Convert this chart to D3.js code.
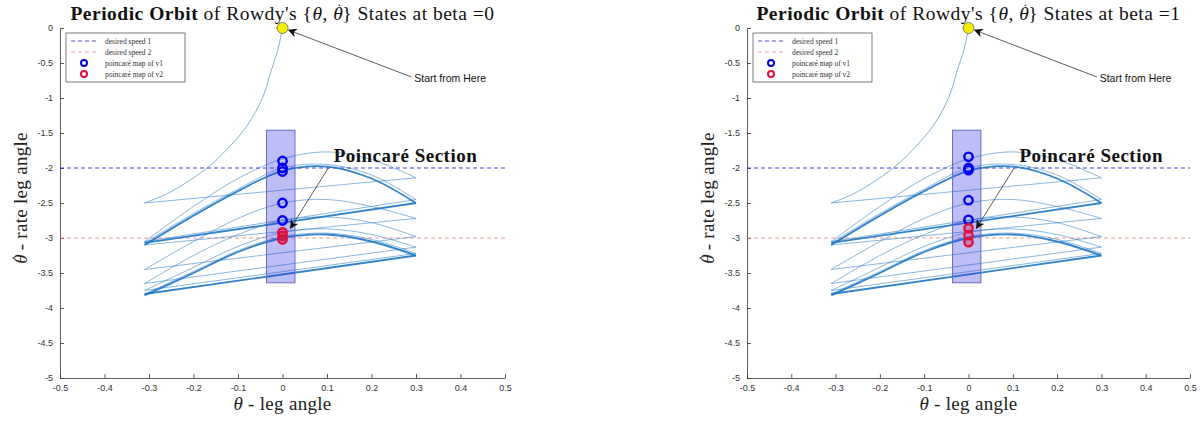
<!DOCTYPE html>
<html>
<head>
<meta charset="utf-8">
<script src="https://cdn.jsdelivr.net/npm/d3@7"></script>
<style>
  body { margin: 0; background: #fff; }
  svg { display: block; }
  .tick text { font-family: "Liberation Sans", Arial, sans-serif; font-size: 9px; fill: #333; }
  .axis path, .axis line { stroke: #333; stroke-width: 0.8; }
</style>
</head>
<body>
<div id="content"></div>
<script>
// ticks
const xTicks = [-0.5, -0.4, -0.3, -0.2, -0.1, 0, 0.1, 0.2, 0.3, 0.4, 0.5];
const yTicks = [0, -0.5, -1, -1.5, -2, -2.5, -3, -3.5, -4, -4.5, -5];

// desired speeds (dashed lines)
const desiredSpeed = [-2, -3];

// first fall from the start point down to the first impact
const startArc = [[0, 0], [-0.01, -0.3], [-0.025, -0.6], [-0.045, -1.0], [-0.08, -1.4], [-0.117, -1.68],
                  [-0.16, -1.95], [-0.207, -2.17], [-0.26, -2.37], [-0.31, -2.5]];

// each stride sampled at these leg angles (right end -> left end)
const strideX = [0.3, 0.2, 0.1, 0, -0.1, -0.2, -0.31];
const strideY = [
    [-2.14, -1.88, -1.77, -1.87, -2.15, -2.55, -3.05],
    [-2.45, -2.10, -1.95, -2.00, -2.30, -2.65, -3.07],
    [-2.50, -2.15, -1.98, -2.04, -2.33, -2.68, -3.10],
    [-2.72, -2.55, -2.45, -2.50, -2.72, -3.05, -3.45],
    [-2.98, -2.78, -2.70, -2.75, -2.95, -3.25, -3.65],
    [-3.13, -2.95, -2.87, -2.92, -3.12, -3.42, -3.75],
    [-3.22, -3.02, -2.93, -2.98, -3.18, -3.48, -3.80],
    [-3.25, -3.05, -2.95, -3.00, -3.20, -3.50, -3.82]
];
// converged strides are drawn many times -> heavier
const strideHeavy = [false, false, true, false, false, false, false, true];

// poincaré section box
const sectionX = [-0.036, 0.028];
const sectionY = [-1.46, -3.64];

// poincaré map values at theta = 0
const betas = [0, 1];
const v1Map = [
    [-1.90, -2.00, -2.05, -2.50, -2.75],
    [-1.84, -2.00, -2.03, -2.46, -2.74]
];
const v2Map = [
    [-2.92, -2.97, -3.02],
    [-2.86, -2.96, -3.06]
];

const legendLabels = ["desired speed 1", "desired speed 2", "poincaré map of v1", "poincaré map of v2"];

const W = 1203, H = 423;
const orbitColor = "#1f77c4";
const serif = "Liberation Serif, serif";

const svg = d3.select("#content")
    .append("svg")
    .attr("width", W)
    .attr("height", H);

const defs = svg.append("defs");
defs.append("marker")
    .attr("id", "arrow")
    .attr("viewBox", "0 0 10 10")
    .attr("refX", 9).attr("refY", 5)
    .attr("markerWidth", 9).attr("markerHeight", 9)
    .attr("markerUnits", "userSpaceOnUse")
    .attr("orient", "auto")
    .append("path")
    .attr("d", "M0,0 L10,5 L0,10 L3,5 z")
    .attr("fill", "#111");

const panelLeft = [60, 747];
const panelRight = [505, 1190];

// italic theta with a dot above it (S = font size of the parent text)
function thetaDot(t, S)
{
    t.append("tspan").style("font-style", "italic").text("θ");
    t.append("tspan")
        .style("font-size", (0.75 * S) + "px")
        .attr("dx", -0.33 * S)
        .attr("dy", -0.29 * S)
        .text("\u02D9");
    return t.append("tspan").attr("dy", 0.29 * S);
}

function drawPanel(i)
{
    const x = d3.scaleLinear().domain([-0.5, 0.5]).range([panelLeft[i], panelRight[i]]);
    const y = d3.scaleLinear().domain([-5, 0]).range([378, 28]);
    const g = svg.append("g");
    const cx = (panelLeft[i] + panelRight[i]) / 2;

    // axes (box off, ticks inside)
    g.append("g")
        .attr("class", "axis")
        .attr("transform", "translate(0,378)")
        .call(d3.axisBottom(x).tickValues(xTicks).tickSize(-4).tickSizeOuter(0).tickPadding(7)
            .tickFormat(d => String(d)));
    g.append("g")
        .attr("class", "axis")
        .attr("transform", "translate(" + panelLeft[i] + ",0)")
        .call(d3.axisLeft(y).tickValues(yTicks).tickSize(-4).tickSizeOuter(0).tickPadding(7)
            .tickFormat(d => String(d)));

    // desired speed lines
    g.append("line")
        .attr("x1", x(-0.5)).attr("x2", x(0.5))
        .attr("y1", y(desiredSpeed[0])).attr("y2", y(desiredSpeed[0]))
        .attr("stroke", "#2a2ad0").attr("stroke-width", 0.9)
        .attr("stroke-dasharray", "4,3");
    g.append("line")
        .attr("x1", x(-0.5)).attr("x2", x(0.5))
        .attr("y1", y(desiredSpeed[1])).attr("y2", y(desiredSpeed[1]))
        .attr("stroke", "#f08a8a").attr("stroke-width", 0.9)
        .attr("stroke-dasharray", "4,3");

    const curve = d3.line()
        .curve(d3.curveCatmullRom)
        .x(d => x(d[0]))
        .y(d => y(d[1]));

    // start fall
    g.append("path")
        .attr("d", curve(startArc))
        .attr("fill", "none")
        .attr("stroke", orbitColor)
        .attr("stroke-width", 0.7)
        .attr("opacity", 0.8);

    // impacts (straight jumps from left end to next right end)
    let prev = startArc[startArc.length - 1];
    strideY.forEach(function(s, k) {
        const heavy = strideHeavy[k];
        g.append("line")
            .attr("x1", x(prev[0])).attr("y1", y(prev[1]))
            .attr("x2", x(strideX[0])).attr("y2", y(s[0]))
            .attr("stroke", orbitColor)
            .attr("stroke-width", heavy ? 1.8 : 0.7)
            .attr("opacity", heavy ? 0.9 : 0.75);
        const pts = strideX.map((v, j) => [v, s[j]]);
        g.append("path")
            .attr("d", curve(pts))
            .attr("fill", "none")
            .attr("stroke", orbitColor)
            .attr("stroke-width", heavy ? 1.8 : 0.7)
            .attr("opacity", heavy ? 0.9 : 0.75);
        prev = pts[pts.length - 1];
    });

    // poincaré section box
    g.append("rect")
        .attr("x", x(sectionX[0]))
        .attr("y", y(sectionY[0]))
        .attr("width", x(sectionX[1]) - x(sectionX[0]))
        .attr("height", y(sectionY[1]) - y(sectionY[0]))
        .attr("fill", "rgba(40,40,230,0.3)")
        .attr("stroke", "#6a6ab8")
        .attr("stroke-width", 1);

    // map circles
    g.selectAll(".v1").data(v1Map[i]).enter()
        .append("circle")
        .attr("cx", x(0)).attr("cy", d => y(d)).attr("r", 4.2)
        .attr("fill", "none").attr("stroke", "#0000ee").attr("stroke-width", 2.4);
    g.selectAll(".v2").data(v2Map[i]).enter()
        .append("circle")
        .attr("cx", x(0)).attr("cy", d => y(d)).attr("r", 4.2)
        .attr("fill", "rgba(200,20,80,0.35)").attr("stroke", "#e0103a").attr("stroke-width", 2.4);

    // start point
    g.append("circle")
        .attr("cx", x(0)).attr("cy", y(0)).attr("r", 5.5)
        .attr("fill", "#f5ee00").attr("stroke", "#666").attr("stroke-width", 0.8);

    // annotations
    g.append("line")
        .attr("x1", x(0.29)).attr("y1", y(-0.7))
        .attr("x2", x(0.014)).attr("y2", y(-0.03))
        .attr("stroke", "#333").attr("stroke-width", 0.8)
        .attr("marker-end", "url(#arrow)");
    g.append("text")
        .attr("x", x(0.296)).attr("y", y(-0.77))
        .style("font-family", "Liberation Sans, Arial, sans-serif")
        .style("font-size", "10.5px")
        .style("fill", "#111")
        .text("Start from Here");

    g.append("line")
        .attr("x1", x(0.103)).attr("y1", y(-2.0))
        .attr("x2", x(0.018)).attr("y2", y(-2.86))
        .attr("stroke", "#333").attr("stroke-width", 0.8)
        .attr("marker-end", "url(#arrow)");
    g.append("text")
        .attr("x", x(0.115)).attr("y", y(-1.91))
        .style("font-family", serif)
        .style("font-size", "19px")
        .style("letter-spacing", "0.5px")
        .style("font-weight", "bold")
        .style("fill", "#111")
        .text("Poincaré Section");

    // legend
    const lg = g.append("g").attr("transform", "translate(" + (panelLeft[i] + 6) + ",33)");
    lg.append("rect")
        .attr("width", 119).attr("height", 49)
        .attr("fill", "#fff").attr("stroke", "#444").attr("stroke-width", 0.7);
    legendLabels.forEach(function(t, k) {
        const ly = 8 + k * 11;
        if (k < 2) {
            lg.append("line")
                .attr("x1", 5).attr("x2", 32).attr("y1", ly).attr("y2", ly)
                .attr("stroke", k == 0 ? "#2a2ad0" : "#f08a8a")
                .attr("stroke-width", 0.8)
                .attr("stroke-dasharray", "4,3");
        } else {
            lg.append("circle")
                .attr("cx", 18).attr("cy", ly).attr("r", 3)
                .attr("fill", "none")
                .attr("stroke", k == 2 ? "#0000ee" : "#e0103a")
                .attr("stroke-width", 2);
        }
        lg.append("text")
            .attr("x", 39).attr("y", ly + 2.5)
            .style("font-family", serif)
            .style("font-size", "7.5px")
            .style("fill", "#333")
            .text(t);
    });

    // title
    const title = g.append("text")
        .attr("x", cx).attr("y", 19.5)
        .attr("text-anchor", "middle")
        .style("font-family", serif)
        .style("font-size", "19.5px")
        .style("letter-spacing", "0.5px")
        .style("fill", "#111");
    title.append("tspan").style("font-weight", "bold").text("Periodic Orbit");
    title.append("tspan").text(" of Rowdy's {");
    title.append("tspan").style("font-style", "italic").text("θ");
    title.append("tspan").text(", ");
    thetaDot(title, 19.5).text("} States at beta =" + betas[i]);

    // axis labels
    const xl = g.append("text")
        .attr("x", cx).attr("y", 410)
        .attr("text-anchor", "middle")
        .style("font-family", serif)
        .style("font-size", "19px")
        .style("letter-spacing", "0.3px")
        .style("fill", "#222");
    xl.append("tspan").style("font-style", "italic").text("θ");
    xl.append("tspan").text(" - leg angle");

    const yl = g.append("text")
        .attr("transform", "translate(" + (panelLeft[i] - 33) + ",198) rotate(-90)")
        .attr("text-anchor", "middle")
        .style("font-family", serif)
        .style("font-size", "19px")
        .style("letter-spacing", "0.3px")
        .style("fill", "#222");
    thetaDot(yl, 19).text(" - rate leg angle");
}

drawPanel(0);
drawPanel(1);
</script>
</body>
</html>
